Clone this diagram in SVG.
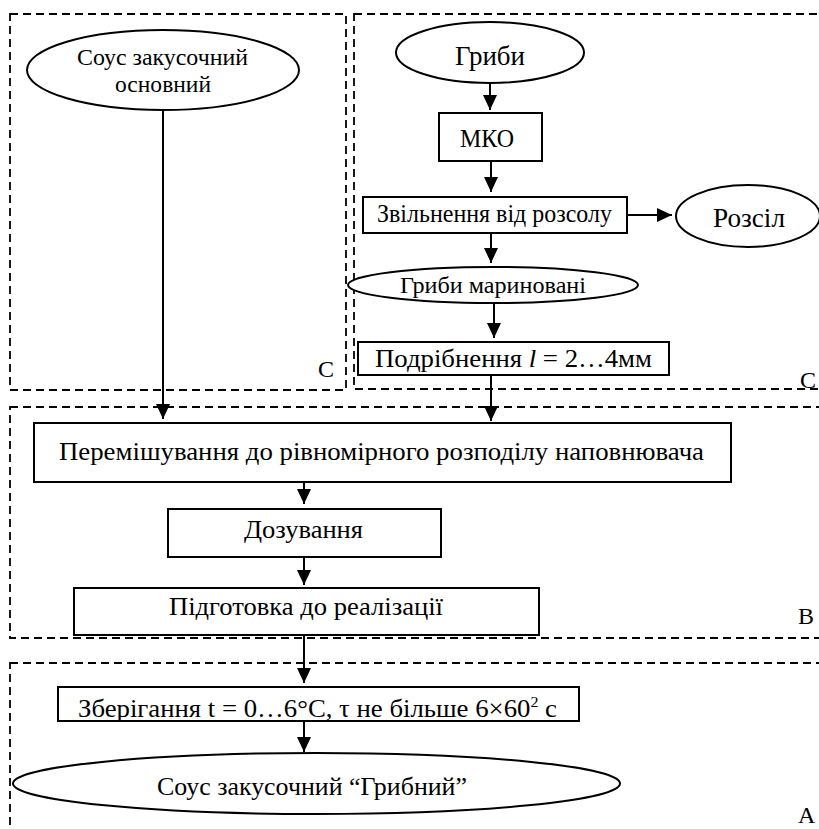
<svg xmlns="http://www.w3.org/2000/svg" width="819" height="829" viewBox="0 0 819 829">
<style>
  .region { fill: none; stroke: #000; stroke-width: 1.8; stroke-dasharray: 8 5; }
  .box { fill: #fff; stroke: #000; stroke-width: 2; }
  .ell { fill: #fff; stroke: #000; stroke-width: 2; }
  .t { font-family: "Liberation Serif", "DejaVu Serif", "Times New Roman", serif; fill: #000; }
  .c { text-anchor: middle; }
  .lbl { font-family: "Liberation Serif", "DejaVu Serif", "Times New Roman", serif; font-size: 24px; fill: #000; }
  .conn line { stroke: #000; stroke-width: 2; marker-end: url(#arr); }
</style>
<defs>
  <marker id="arr" markerUnits="userSpaceOnUse" markerWidth="15" markerHeight="14" viewBox="0 0 15 14" refX="15" refY="7" orient="auto">
    <path d="M0,0 L15,7 L0,14 z" fill="#000"/>
  </marker>
</defs>
<rect width="819" height="829" fill="#fff"/>

<g id="regions">
  <rect id="region-c1" class="region" x="10" y="14" width="336" height="376"/>
  <rect id="region-c2" class="region" x="354" y="14" width="480" height="375"/>
  <rect id="region-b" class="region" x="10" y="407" width="830" height="231"/>
  <rect id="region-a" class="region" x="10" y="663" width="830" height="200"/>
  <text class="lbl" x="318" y="377">C</text>
  <text class="lbl" x="800" y="388">C</text>
  <text class="lbl" x="798" y="624">B</text>
  <text class="lbl" x="798" y="823">A</text>
</g>

<g id="connectors" class="conn">
  <line x1="163" y1="110" x2="163" y2="419"/>
  <line x1="491" y1="375" x2="491" y2="421"/>
  <line x1="490" y1="83" x2="490" y2="110"/>
  <line x1="491" y1="161" x2="491" y2="192"/>
  <line x1="627" y1="215" x2="672" y2="215"/>
  <line x1="491" y1="233" x2="491" y2="263"/>
  <line x1="494" y1="303" x2="494" y2="338"/>
  <line x1="304" y1="482" x2="304" y2="504"/>
  <line x1="304" y1="557" x2="304" y2="585"/>
  <line x1="304" y1="635" x2="304" y2="683"/>
  <line x1="304" y1="721" x2="304" y2="752"/>
</g>

<g id="n-sous-osnovnyi">
  <ellipse class="ell" cx="163" cy="70" rx="136" ry="40"/>
  <text class="t c" x="162.5" y="65" font-size="23" textLength="171" lengthAdjust="spacingAndGlyphs">Соус закусочний</text>
  <text class="t c" x="163" y="92" font-size="23" textLength="96" lengthAdjust="spacingAndGlyphs">основний</text>
</g>

<g id="n-hryby">
  <ellipse class="ell" cx="490" cy="52.5" rx="94" ry="30.5"/>
  <text class="t c" x="490" y="65" font-size="27" textLength="70" lengthAdjust="spacingAndGlyphs">Гриби</text>
</g>

<g id="n-mko">
  <rect class="box" x="439" y="113" width="103" height="48"/>
  <text class="t c" x="487" y="147" font-size="25" textLength="54" lengthAdjust="spacingAndGlyphs">МКО</text>
</g>

<g id="n-zvilnennia">
  <rect class="box" x="363" y="197" width="264" height="36"/>
  <text class="t c" x="494.5" y="222" font-size="25" textLength="235" lengthAdjust="spacingAndGlyphs">Звільнення від розсолу</text>
</g>

<g id="n-rozsil">
  <ellipse class="ell" cx="748" cy="216" rx="72" ry="31"/>
  <text class="t c" x="749" y="227" font-size="27" textLength="72" lengthAdjust="spacingAndGlyphs">Розсіл</text>
</g>

<g id="n-hryby-marynovani">
  <ellipse class="ell" cx="493" cy="285" rx="145" ry="18"/>
  <text class="t c" x="493" y="293" font-size="23" textLength="186" lengthAdjust="spacingAndGlyphs">Гриби мариновані</text>
</g>

<g id="n-podribnennia">
  <rect class="box" x="358" y="342" width="311" height="33"/>
  <text class="t" x="375" y="367" font-size="25" textLength="277" lengthAdjust="spacingAndGlyphs">Подрібнення <tspan font-style="italic">l</tspan> = 2…4мм</text>
</g>

<g id="n-peremishuvannia">
  <rect class="box" x="34" y="423" width="697" height="59"/>
  <text class="t c" x="381.5" y="460" font-size="25" textLength="645" lengthAdjust="spacingAndGlyphs">Перемішування до рівномірного розподілу наповнювача</text>
</g>

<g id="n-dozuvannia">
  <rect class="box" x="168" y="509" width="273" height="48"/>
  <text class="t c" x="303.5" y="538" font-size="25" textLength="119" lengthAdjust="spacingAndGlyphs">Дозування</text>
</g>

<g id="n-pidhotovka">
  <rect class="box" x="74" y="588" width="465" height="47"/>
  <text class="t c" x="306" y="615" font-size="25" textLength="274" lengthAdjust="spacingAndGlyphs">Підготовка до реалізації</text>
</g>

<g id="n-zberihannia">
  <rect class="box" x="58" y="687" width="521" height="34"/>
  <text class="t" x="78" y="717" font-size="25" textLength="479" lengthAdjust="spacingAndGlyphs">Зберігання t = 0…6°C, τ не більше 6×60<tspan font-size="15" dy="-10">2</tspan><tspan dy="10"> с</tspan></text>
</g>

<g id="n-sous-hrybnyi">
  <ellipse class="ell" cx="316.5" cy="783.5" rx="303.5" ry="30.5"/>
  <text class="t c" x="312" y="795" font-size="25" textLength="310" lengthAdjust="spacingAndGlyphs">Соус закусочний “Грибний”</text>
</g>
</svg>
